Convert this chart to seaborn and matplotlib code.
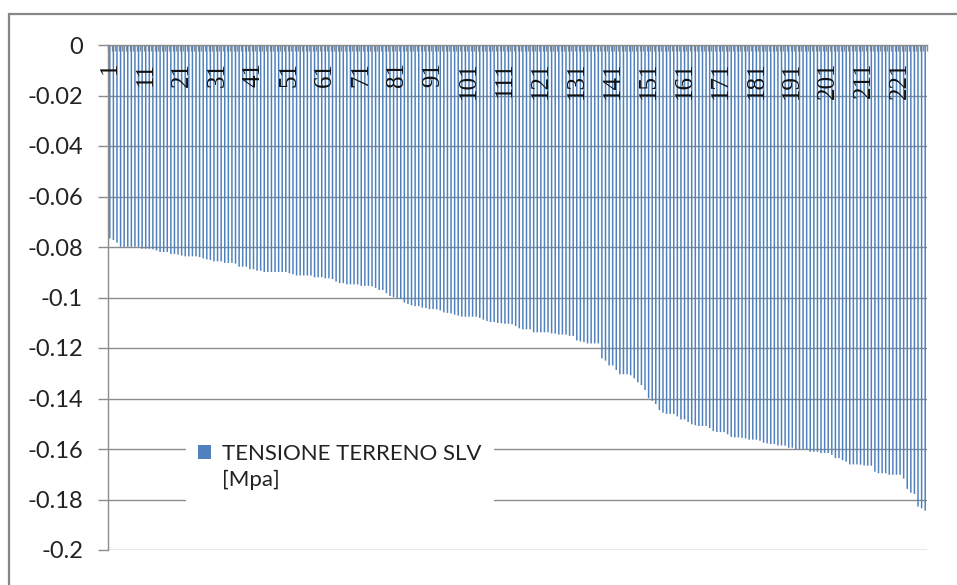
import numpy as np
import pandas as pd
import matplotlib
matplotlib.use("Agg")
import matplotlib.pyplot as plt
from matplotlib.patches import Patch, Rectangle
import seaborn as sns

# Soil stress per element, sorted (MPa)
tensione = [
    -0.0766, -0.0772, -0.0783, -0.0799, -0.0799, -0.0799, -0.0799, -0.0799, -0.0799, -0.0807,
    -0.0807, -0.0807, -0.0809, -0.0814, -0.0820, -0.0820, -0.0820, -0.0828, -0.0828, -0.0830,
    -0.0834, -0.0837, -0.0837, -0.0837, -0.0837, -0.0840, -0.0845, -0.0849, -0.0851, -0.0857,
    -0.0857, -0.0857, -0.0863, -0.0863, -0.0863, -0.0866, -0.0878, -0.0878, -0.0878, -0.0888,
    -0.0888, -0.0894, -0.0894, -0.0899, -0.0899, -0.0899, -0.0899, -0.0899, -0.0899, -0.0899,
    -0.0904, -0.0908, -0.0913, -0.0913, -0.0913, -0.0913, -0.0913, -0.0920, -0.0920, -0.0920,
    -0.0924, -0.0924, -0.0927, -0.0937, -0.0943, -0.0943, -0.0948, -0.0948, -0.0948, -0.0948,
    -0.0954, -0.0954, -0.0954, -0.0956, -0.0962, -0.0970, -0.0970, -0.0983, -0.0994, -0.0999,
    -0.1003, -0.1005, -0.1020, -0.1026, -0.1031, -0.1034, -0.1034, -0.1040, -0.1042, -0.1046,
    -0.1046, -0.1047, -0.1051, -0.1059, -0.1061, -0.1063, -0.1068, -0.1072, -0.1076, -0.1076,
    -0.1076, -0.1076, -0.1076, -0.1081, -0.1088, -0.1093, -0.1097, -0.1097, -0.1101, -0.1102,
    -0.1104, -0.1104, -0.1106, -0.1113, -0.1122, -0.1126, -0.1126, -0.1126, -0.1138, -0.1138,
    -0.1138, -0.1138, -0.1138, -0.1142, -0.1143, -0.1147, -0.1147, -0.1147, -0.1152, -0.1152,
    -0.1170, -0.1174, -0.1177, -0.1182, -0.1182, -0.1182, -0.1182, -0.1241, -0.1250, -0.1269,
    -0.1269, -0.1287, -0.1304, -0.1304, -0.1304, -0.1308, -0.1320, -0.1336, -0.1347, -0.1366,
    -0.1399, -0.1409, -0.1422, -0.1446, -0.1456, -0.1461, -0.1461, -0.1461, -0.1471, -0.1483,
    -0.1483, -0.1493, -0.1502, -0.1506, -0.1509, -0.1509, -0.1509, -0.1517, -0.1529, -0.1533,
    -0.1533, -0.1533, -0.1542, -0.1552, -0.1554, -0.1554, -0.1556, -0.1558, -0.1563, -0.1563,
    -0.1563, -0.1567, -0.1575, -0.1578, -0.1580, -0.1580, -0.1586, -0.1586, -0.1587, -0.1595,
    -0.1595, -0.1601, -0.1601, -0.1601, -0.1601, -0.1611, -0.1611, -0.1611, -0.1616, -0.1616,
    -0.1616, -0.1623, -0.1636, -0.1636, -0.1644, -0.1650, -0.1661, -0.1661, -0.1661, -0.1662,
    -0.1665, -0.1666, -0.1666, -0.1690, -0.1696, -0.1696, -0.1696, -0.1702, -0.1702, -0.1702,
    -0.1702, -0.1717, -0.1758, -0.1773, -0.1778, -0.1828, -0.1835, -0.1844,
]
elementi = [str(i) for i in range(1, len(tensione) + 1)]
etichette_x = [str(i) for i in range(1, len(tensione) + 1, 10)]
valori_y = [0, -0.02, -0.04, -0.06, -0.08, -0.1, -0.12, -0.14, -0.16, -0.18, -0.2]
etichette_y = ["0", "-0.02", "-0.04", "-0.06", "-0.08", "-0.1", "-0.12", "-0.14", "-0.16", "-0.18", "-0.2"]
serie = ["TENSIONE TERRENO SLV", "[Mpa]"]

BLU = "#4F81BD"
GRIGIO = "#8C8C8C"

sns.set_theme(style="white")
plt.rcParams["font.family"] = ["Lato", "DejaVu Sans"]
plt.rcParams["axes.unicode_minus"] = False

df = pd.DataFrame({"elemento": elementi, "tensione": tensione})

fig = plt.figure(figsize=(9.57, 5.85), dpi=100)
ax = fig.add_axes([108 / 957, 1 - 550 / 585, 819 / 957, 505 / 585])

sns.barplot(data=df, x="elemento", y="tensione", order=elementi, color=BLU,
            saturation=1, width=0.42, linewidth=0, ax=ax, zorder=2)
for bar in ax.patches:
    bar.set_snap(False)

ax.set_ylim(-0.2, 0)
ax.set_xlim(-0.5, len(elementi) - 0.5)
ax.set_xlabel("")
ax.set_ylabel("")

# y axis: ticks, labels, gridlines
ax.set_yticks(valori_y)
ax.set_yticklabels(etichette_y, fontsize=17, color="#222222")
ax.tick_params(axis="y", left=True, length=7, width=1, color=GRIGIO, pad=11)
ax.yaxis.grid(True, color=GRIGIO, linewidth=1.0, zorder=0)
ax.set_axisbelow(True)

# category axis sits at the zero line (top), ticks between categories
ax.xaxis.set_ticks_position("top")
ax.set_xticks(np.arange(-0.5, len(elementi), 1.0))
ax.tick_params(axis="x", top=True, bottom=False, direction="in", length=4,
               width=1, color=GRIGIO, labeltop=False, labelbottom=False)

for sp in ["right", "bottom"]:
    ax.spines[sp].set_visible(False)
for sp in ["top", "left"]:
    ax.spines[sp].set_color(GRIGIO)
    ax.spines[sp].set_linewidth(1.0)

# category labels, rotated, just under the zero line
for lab in etichette_x:
    pos = elementi.index(lab)
    ax.text(pos, -0.0066, lab, rotation=90, ha="center", va="top",
            fontsize=18, family=["Liberation Serif", "DejaVu Serif"], color="#111111")

# legend
handles = [Patch(facecolor=BLU, edgecolor="none"),
           Patch(facecolor="none", edgecolor="none")]
leg = ax.legend(handles, serie, loc="upper left", bbox_to_anchor=(0.095, 0.235),
                frameon=True, fancybox=False, framealpha=1, edgecolor="none",
                facecolor="white", fontsize=16, handlelength=0.6, handleheight=0.6,
                handletextpad=0.5, labelspacing=0.3, borderpad=0.55,
                borderaxespad=0)
for t in leg.get_texts():
    t.set_color("#222222")

# chart-area border
fig.add_artist(Rectangle((9 / 957, -0.2), 1.3, 1.2 - 14 / 585, transform=fig.transFigure,
                         fill=False, edgecolor="#878787", linewidth=1.6))

fig.savefig("out.png", dpi=100)
